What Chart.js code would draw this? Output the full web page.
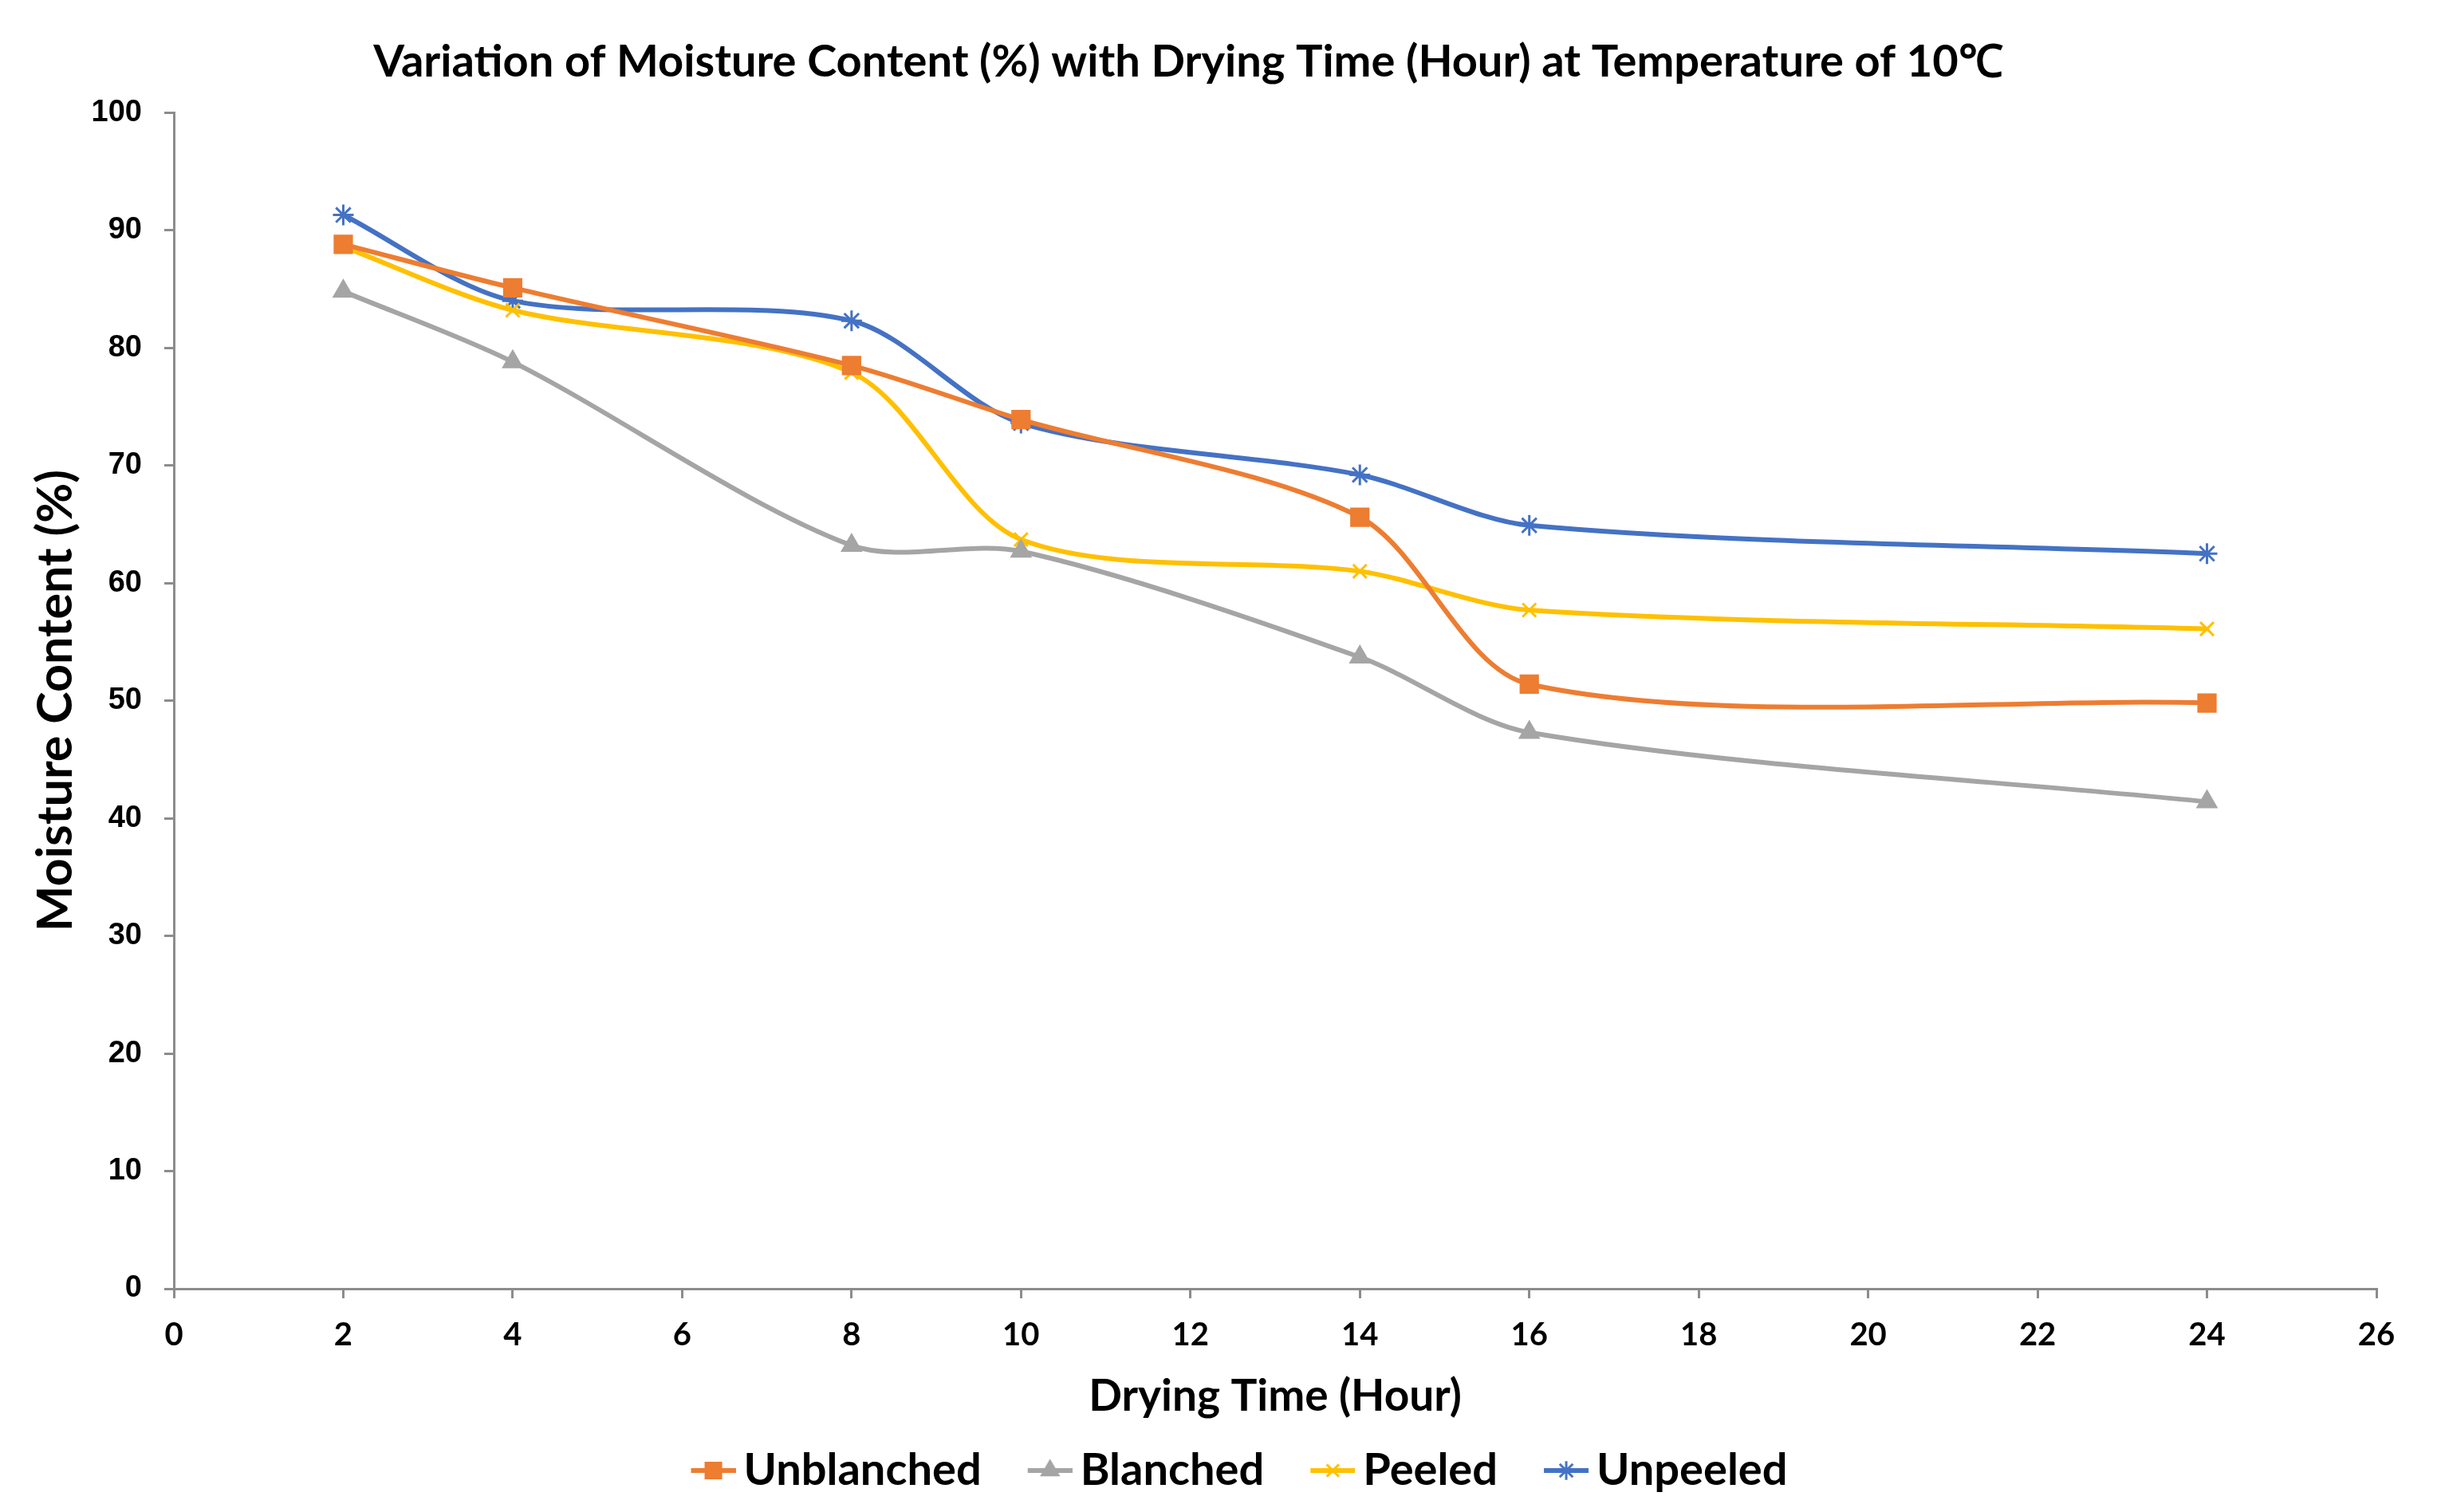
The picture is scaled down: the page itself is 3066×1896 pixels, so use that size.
<!DOCTYPE html>
<html>
<head>
<meta charset="utf-8">
<script src="https://cdn.jsdelivr.net/npm/chart.js@4.4.1/dist/chart.umd.min.js"></script>
<style>
  html, body { margin: 0; padding: 0; background: #fff; }
  #wrap { width: 3066px; height: 1896px; }
</style>
</head>
<body>
<div id="wrap"><canvas id="chart1"></canvas></div>
<script>
// Dados (umidade % x horas)
const hours = [2, 4, 8, 10, 14, 16, 24];
const unblanched = [88.8, 85.1, 78.5, 73.9, 65.6, 51.4, 49.8];
const blanched = [84.8, 78.8, 63.2, 62.7, 53.7, 47.3, 41.4];
const peeled = [88.6, 83.2, 77.9, 63.7, 61.0, 57.7, 56.1];
const unpeeled = [91.3, 84.0, 82.3, 73.6, 69.2, 64.9, 62.5];

const seriesNames = ['Unblanched', 'Blanched', 'Peeled', 'Unpeeled'];
const xTickValues = [0, 2, 4, 6, 8, 10, 12, 14, 16, 18, 20, 22, 24, 26];
const yTickValues = [0, 10, 20, 30, 40, 50, 60, 70, 80, 90, 100];

// Estilo
const colors = ['#ED7D31', '#A5A5A5', '#FFC000', '#4472C4'];
const markers = ['rect', 'triangle', 'crossRot', 'star'];
const markerSizes = [15, 13, 12, 13];
const axisGray = '#8C8C8C';

function toPoints(values) {
    return hours.map((h, i) => ({ x: h, y: values[i] }));
}

// Ícone da legenda: espaço vazio à esquerda (separação entre itens) + linha + marcador
function legendIcon(color, style, radius) {
    const c = document.createElement('canvas');
    c.width = 122;
    c.height = 40;
    const ctx = c.getContext('2d');
    ctx.strokeStyle = color;
    ctx.lineWidth = 6;
    ctx.beginPath();
    ctx.moveTo(66, 20);
    ctx.lineTo(122, 20);
    ctx.stroke();
    ctx.fillStyle = color;
    ctx.lineWidth = 3;
    Chart.helpers.drawPoint(ctx, { pointStyle: style, radius: radius, borderWidth: 3, rotation: 0 }, 94, 20);
    return c;
}

// Desloca a legenda um pouco para a direita, como no original
const legendShift = {
    id: 'legendShift',
    afterLayout(chart) {
        chart.legend.left += 40;
        chart.legend.right += 40;
    }
};

document.addEventListener('DOMContentLoaded', function () {
    const chart_1 = document.getElementById('chart1');
    const allValues = [unblanched, blanched, peeled, unpeeled];
    const icons = colors.map((c, i) => legendIcon(c, markers[i], markerSizes[i] * 0.9));

    new Chart(chart_1, {
        type: 'line',
        data: {
            datasets: allValues.map((vals, i) => ({
                label: seriesNames[i],
                data: toPoints(vals),
                borderColor: colors[i],
                backgroundColor: colors[i],
                borderWidth: 6,
                pointStyle: markers[i],
                pointRadius: markerSizes[i],
                pointBorderWidth: 3,
                pointBackgroundColor: colors[i],
                pointBorderColor: colors[i],
                tension: 0.3,
                fill: false
            }))
        },
        plugins: [legendShift],
        options: {
            responsive: true,
            maintainAspectRatio: false,
            devicePixelRatio: 1,
            animation: false,
            layout: { padding: { left: 0, right: 86, top: 0, bottom: 14 } },
            plugins: {
                title: {
                    display: true,
                    text: 'Variation of Moisture Content (%) with Drying Time (Hour) at Temperature of 10\u2103',
                    color: '#000',
                    font: { family: 'Lato', weight: 'bold', size: 56 },
                    padding: { top: 44, bottom: 30 }
                },
                legend: {
                    position: 'bottom',
                    labels: {
                        color: '#000',
                        font: { family: 'Lato', weight: 'bold', size: 56 },
                        usePointStyle: true,
                        pointStyleWidth: 86,
                        padding: 10,
                        generateLabels: function (chart) {
                            const items = Chart.defaults.plugins.legend.labels.generateLabels(chart);
                            items.forEach((it, i) => { it.pointStyle = icons[i]; });
                            return items;
                        }
                    }
                },
                tooltip: { enabled: false }
            },
            scales: {
                x: {
                    type: 'linear',
                    min: 0,
                    max: 26,
                    afterBuildTicks: (scale) => { scale.ticks = xTickValues.map(v => ({ value: v })); },
                    afterFit: (scale) => { scale.height = 190; },
                    border: { color: axisGray, width: 3 },
                    grid: { drawOnChartArea: false, drawTicks: true, tickLength: 12, tickColor: axisGray, lineWidth: 3 },
                    ticks: { color: '#000', font: { family: 'Lato', weight: 'bold', size: 40 }, padding: 22, maxRotation: 0 },
                    title: {
                        display: true,
                        text: 'Drying Time (Hour)',
                        color: '#000',
                        font: { family: 'Lato', weight: 'bold', size: 55 },
                        padding: { top: 0, bottom: 22 }
                    }
                },
                y: {
                    min: 0,
                    max: 100,
                    afterBuildTicks: (scale) => { scale.ticks = yTickValues.map(v => ({ value: v })); },
                    afterFit: (scale) => { scale.width = 218; },
                    border: { color: axisGray, width: 3 },
                    grid: { drawOnChartArea: false, drawTicks: true, tickLength: 12, tickColor: axisGray, lineWidth: 3 },
                    ticks: { color: '#000', font: { family: 'Liberation Sans', weight: 'bold', size: 38 }, padding: 28 },
                    title: {
                        display: true,
                        text: 'Moisture Content (%)',
                        color: '#000',
                        font: { family: 'Lato', weight: 'bold', size: 61 },
                        padding: { top: 34, bottom: 0 }
                    }
                }
            }
        }
    });
});
</script>
</body>
</html>
